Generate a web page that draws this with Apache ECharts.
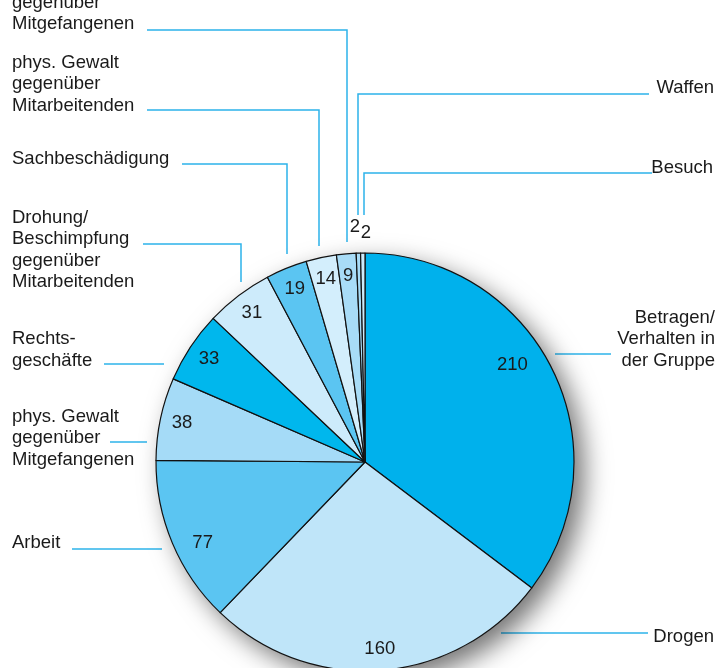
<!DOCTYPE html>
<html>
<head>
<meta charset="utf-8">
<script src="https://cdn.jsdelivr.net/npm/echarts@6/dist/echarts.min.js"></script>
<style>
html, body { margin: 0; padding: 0; background: #fff; }
#main { width: 718px; height: 668px; }
</style>
</head>
<body>
<div id="main"></div>
<script>
var categories = [
    'Betragen/\nVerhalten in\nder Gruppe',
    'Drogen',
    'Arbeit',
    'phys. Gewalt\ngegenüber\nMitgefangenen',
    'Rechts-\ngeschäfte',
    'Drohung/\nBeschimpfung\ngegenüber\nMitarbeitenden',
    'Sachbeschädigung',
    'phys. Gewalt\ngegenüber\nMitarbeitenden',
    'Drohung/\nBeschimpfung\ngegenüber\nMitgefangenen',
    'Waffen',
    'Besuch'
];
var values = [210, 160, 77, 38, 33, 31, 19, 14, 9, 2, 2];

var colors = ['#00b1ec', '#bfe5f9', '#5bc5f2', '#a5dbf7', '#00b7ed', '#cdebfb',
              '#5bc5f2', '#d3eefc', '#a8dcf7', '#a8dcf7', '#cdebfb'];

// where each name label sits, and its leader line (layout only)
var labelSpots = [
    [715, 339, 'right'], [714, 637, 'right'], [12, 543, 'left'], [12, 438, 'left'],
    [12, 350, 'left'], [12, 250, 'left'], [12, 159, 'left'], [12, 84, 'left'],
    [12, -8, 'left'], [714, 88, 'right'], [713, 168, 'right']
];
var leaderLines = [
    [[555, 354], [583, 354], [611, 354]],
    [[501, 633], [575, 633], [648, 633]],
    [[162, 549], [117, 549], [72, 549]],
    [[147, 442], [128, 442], [110, 442]],
    [[164, 364], [134, 364], [104, 364]],
    [[241, 282], [241, 244], [143, 244]],
    [[287, 254], [287, 164], [182, 164]],
    [[319, 246], [319, 110], [147, 110]],
    [[347, 242], [347, 30], [147, 30]],
    [[358, 215], [358, 94], [649, 94]],
    [[364, 215], [364, 173], [652, 173]]
];
// the two tiny slices get their numbers above the pie
var smallNumberSpots = { 9: [355, 227], 10: [366, 233] };
// small shifts of a few value labels
var numberNudge = { 0: [-20, -14], 2: [10, 8] };

var font = "'Liberation Sans', Arial, Helvetica, sans-serif";
var center = [365, 462];
var R = 209;

var pieData = values.map(function (v, i) {
    return { name: categories[i], value: v, itemStyle: { color: colors[i] } };
});

var myChart = echarts.init(document.getElementById('main'));
var option = {
    animation: false,
    series: [
        {
            // drop shadow under the pie
            type: 'pie',
            silent: true,
            center: center,
            radius: R,
            label: { show: false },
            labelLine: { show: false },
            itemStyle: {
                color: '#fff',
                shadowBlur: 26,
                shadowOffsetX: 10,
                shadowOffsetY: 10,
                shadowColor: 'rgba(0,0,0,0.55)'
            },
            data: [{ value: 1, name: '' }]
        },
        {
            type: 'pie',
            silent: true,
            center: center,
            radius: R,
            startAngle: 90,
            clockwise: true,
            avoidLabelOverlap: false,
            itemStyle: { borderColor: '#111', borderWidth: 1.2 },
            label: {
                show: true,
                position: 'outside',
                formatter: '{b}',
                fontFamily: font,
                fontSize: 18.5,
                lineHeight: 21.5,
                color: '#1a1a1a'
            },
            labelLine: {
                show: true,
                lineStyle: { color: '#2db3ea', width: 1.5 }
            },
            labelLayout: function (params) {
                var s = labelSpots[params.dataIndex];
                return {
                    x: s[0],
                    y: s[1],
                    align: s[2],
                    verticalAlign: 'middle',
                    labelLinePoints: leaderLines[params.dataIndex]
                };
            },
            data: pieData
        },
        {
            // value labels, placed near the rim
            type: 'pie',
            silent: true,
            center: center,
            radius: [159, R],
            startAngle: 90,
            clockwise: true,
            itemStyle: { color: 'rgba(0,0,0,0)' },
            label: {
                show: true,
                position: 'inside',
                formatter: '{c}',
                fontFamily: font,
                fontSize: 18.5,
                color: '#1a1a1a'
            },
            labelLine: { show: false },
            labelLayout: function (params) {
                var s = smallNumberSpots[params.dataIndex];
                if (s) {
                    return { x: s[0], y: s[1], align: 'center', verticalAlign: 'middle' };
                }
                var n = numberNudge[params.dataIndex];
                if (n) {
                    return { dx: n[0], dy: n[1] };
                }
                return {};
            },
            data: values.map(function (v, i) {
                return { name: categories[i], value: v };
            })
        }
    ]
};
myChart.setOption(option);
</script>
</body>
</html>
